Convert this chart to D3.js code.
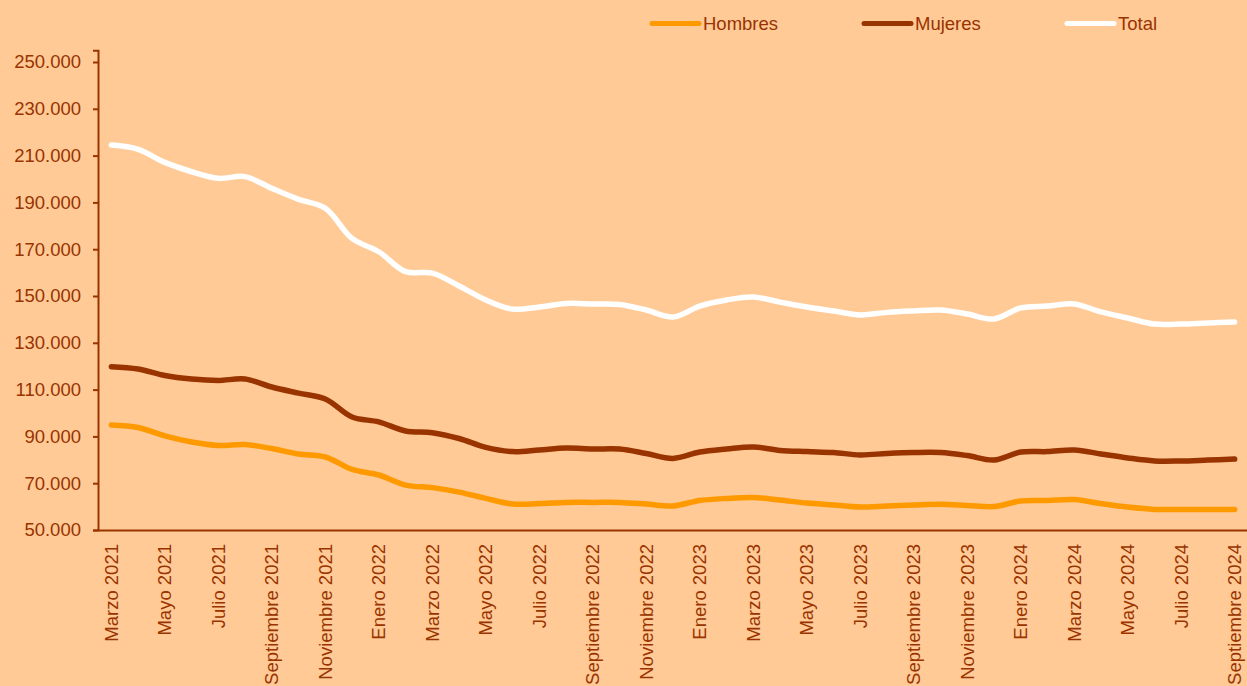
<!DOCTYPE html>
<html>
<head>
<meta charset="utf-8">
<script src="https://cdn.jsdelivr.net/npm/d3@7"></script>
<style>
  html, body { margin: 0; padding: 0; background: #FFCA96; }
  svg { display: block; font-family: "Liberation Sans", Arial, sans-serif; }
</style>
</head>
<body>
<svg id="chart" width="1247" height="686"></svg>
<script>
'use strict'
// meses de marzo 2021 a septiembre 2024
const monthNames = ['Enero', 'Febrero', 'Marzo', 'Abril', 'Mayo', 'Junio', 'Julio',
  'Agosto', 'Septiembre', 'Octubre', 'Noviembre', 'Diciembre']
const months = []
for (let k = 0; k < 43; k++) {
  const m = (2 + k) % 12, yr = 2021 + Math.floor((2 + k) / 12)
  months.push(monthNames[m] + ' ' + yr)
}

const hombres = [94900, 93800, 90200, 87600, 86100, 86500, 84800, 82500, 81200, 75900,
  73500, 69200, 68100, 66200, 63500, 61100, 61300, 61800, 61800, 61800,
  61100, 60300, 62600, 63500, 63900, 62800, 61500, 60700, 59800, 60300,
  60700, 61000, 60500, 60000, 62400, 62600, 63000, 61300, 59800, 58800,
  58800, 58800, 58800]
const mujeres = [119800, 118800, 116000, 114500, 113900, 114500, 111100, 108500, 106000, 98300,
  96200, 92300, 91600, 89100, 85300, 83500, 84200, 85000, 84600, 84600,
  82700, 80600, 83300, 84600, 85500, 84000, 83500, 83100, 82100, 82700,
  83100, 83100, 81800, 79900, 83300, 83500, 84200, 82500, 80800, 79500,
  79500, 79900, 80300]
const total = [214500, 212700, 207100, 203100, 200300, 201000, 196000, 191300, 187500, 174600,
  168900, 160400, 159800, 154300, 148300, 144400, 145300, 146800, 146600, 146400,
  144000, 141000, 145700, 148300, 149600, 147400, 145300, 143600, 141900, 143000,
  143600, 144000, 142300, 140200, 144900, 145700, 146600, 143200, 140600, 138000,
  138000, 138500, 138900]
const yTicks = [50000, 70000, 90000, 110000, 130000, 150000, 170000, 190000, 210000, 230000, 250000]

const series = [
  { name: 'Hombres', values: hombres, color: '#FF9900' },
  { name: 'Mujeres', values: mujeres, color: '#993300' },
  { name: 'Total', values: total, color: '#FFFFFF' }
]

const ink = '#993300'
const svg = d3.select('#chart')

const x = d3.scaleBand().domain(months).range([98, 1248])
const y = d3.scaleLinear().domain([50000, 255000]).range([530, 50.3])
const fmt = d => d3.format(',')(d).replace(/,/g, '.')

// eje y
const yAxis = svg.append('g')
  .attr('transform', 'translate(98,0)')
  .call(d3.axisLeft(y).tickValues(yTicks).tickSize(5).tickPadding(12).tickFormat(fmt))
yAxis.select('.domain').attr('stroke', ink).attr('stroke-width', 2)
yAxis.selectAll('.tick line').attr('stroke', ink).attr('stroke-width', 2)
yAxis.selectAll('.tick text').attr('fill', ink).style('font-size', '18.5px')

// eje x, etiqueta cada dos meses
const xAxis = svg.append('g')
  .attr('transform', 'translate(0,530)')
  .call(d3.axisBottom(x).tickValues(months.filter((d, i) => i % 2 === 0)).tickSize(0).tickSizeOuter(0))
xAxis.select('.domain').attr('stroke', ink).attr('stroke-width', 2)
xAxis.selectAll('.tick text')
  .attr('fill', ink)
  .style('font-size', '18.5px')
  .attr('text-anchor', 'end')
  .attr('transform', 'rotate(-90)')
  .attr('x', -14)
  .attr('y', 0)
  .attr('dy', '0.35em')

// lineas
const line = d3.line()
  .x((d, i) => x(months[i]) + x.bandwidth() / 2)
  .y(d => y(d))
  .curve(d3.curveCatmullRom.alpha(0.5))

svg.append('g').selectAll('path')
  .data(series)
  .enter().append('path')
  .attr('d', d => line(d.values))
  .attr('fill', 'none')
  .attr('stroke', d => d.color)
  .attr('stroke-width', 5.5)
  .attr('stroke-linecap', 'round')
  .attr('stroke-linejoin', 'round')

// leyenda
const legendX = [650, 862, 1065]
const legend = svg.append('g').selectAll('g')
  .data(series)
  .enter().append('g')
  .attr('transform', (d, i) => 'translate(' + legendX[i] + ',23.5)')

legend.append('line')
  .attr('x1', 2).attr('x2', 49)
  .attr('stroke', d => d.color)
  .attr('stroke-width', 5)
  .attr('stroke-linecap', 'round')

legend.append('text')
  .attr('x', 53)
  .attr('dy', '0.35em')
  .attr('fill', ink)
  .style('font-size', '18.5px')
  .text(d => d.name)
</script>
</body>
</html>
